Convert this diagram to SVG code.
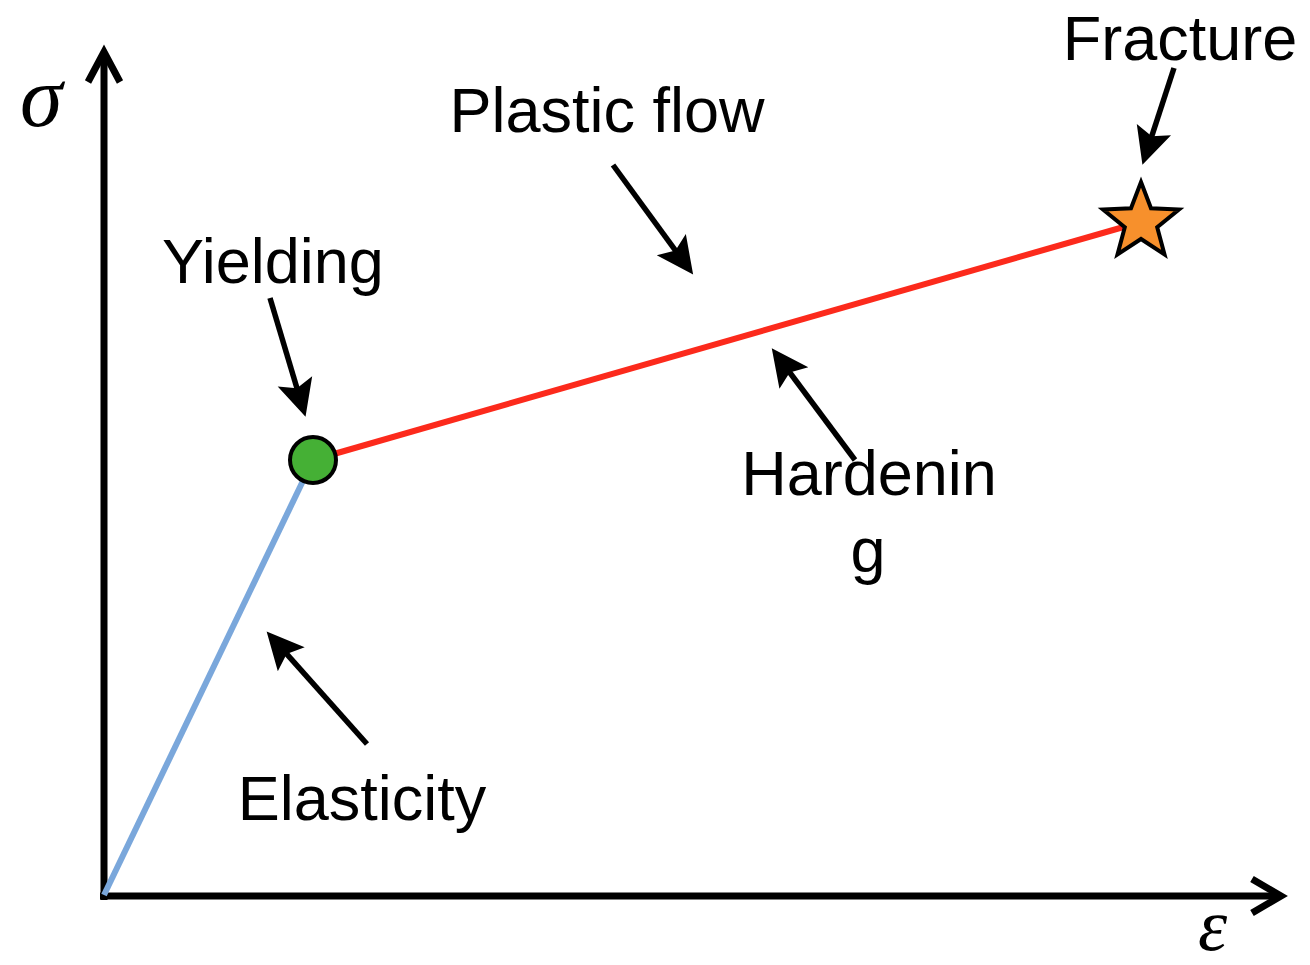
<svg xmlns="http://www.w3.org/2000/svg" width="1310" height="965" viewBox="0 0 1310 965">
<style>
.lbl{font-family:"Liberation Sans",Arial,sans-serif;font-size:63px;fill:#000;text-anchor:middle}
.sym{font-family:"Liberation Serif","DejaVu Serif",serif;font-style:italic;fill:#000}
.axis{stroke:#000;stroke-width:7;fill:none}
.arr{stroke:#000;stroke-width:5.5;fill:none;marker-end:url(#ah)}
</style>
<defs>
<marker id="ah" viewBox="-40 -20 42 40" refX="-27" refY="0" markerWidth="42" markerHeight="40" markerUnits="userSpaceOnUse" orient="auto">
<path d="M0,0 L-37,-18 L-30,0 L-37,18 Z" fill="#000"/>
</marker>
</defs>
<rect width="1310" height="965" fill="#fff"/>
<g id="axes">
<line class="axis" x1="104" y1="900" x2="104" y2="52"/>
<polyline class="axis" points="88,82 104,52 120,82"/>
<line class="axis" x1="100" y1="896" x2="1280" y2="896"/>
<polyline class="axis" points="1252,879 1281,896 1252,913"/>
<text class="sym" x="20" y="126" font-size="86">σ</text>
<text class="sym" x="1198" y="950" font-size="74">ε</text>
</g>
<g id="curve">
<line x1="104" y1="895" x2="313" y2="460" stroke="#7aa7db" stroke-width="6"/>
<line x1="313" y1="460" x2="1141" y2="222" stroke="#fc2a1c" stroke-width="6"/>
</g>
<g id="yield-point">
<circle cx="313" cy="460" r="23" fill="#45b035" stroke="#000" stroke-width="4"/>
</g>
<g id="fracture-point">
<polygon points="1141,182 1151,208.2 1179,209.6 1157.2,227.3 1164.5,254.4 1141,239 1117.5,254.4 1124.8,227.3 1103,209.6 1131,208.2" fill="#f7902c" stroke="#000" stroke-width="4" stroke-linejoin="miter"/>
</g>
<g id="connectors">
<line class="arr" x1="1174" y1="68" x2="1150.8" y2="139.2"/>
<line class="arr" x1="613" y1="165" x2="677.2" y2="252.8"/>
<line class="arr" x1="270" y1="298" x2="297.8" y2="391"/>
<line class="arr" x1="855" y1="460" x2="787.9" y2="370"/>
<line class="arr" x1="367" y1="744" x2="284.6" y2="651.7"/>
</g>
<g id="label-fracture"><text class="lbl" x="1180" y="60">Fracture</text></g>
<g id="label-plastic"><text class="lbl" x="607" y="132">Plastic flow</text></g>
<g id="label-yielding"><text class="lbl" x="273" y="283">Yielding</text></g>
<g id="label-hardening"><text class="lbl" x="869" y="495">Hardenin</text><text class="lbl" x="868" y="572">g</text></g>
<g id="label-elasticity"><text class="lbl" x="362" y="820">Elasticity</text></g>
</svg>
